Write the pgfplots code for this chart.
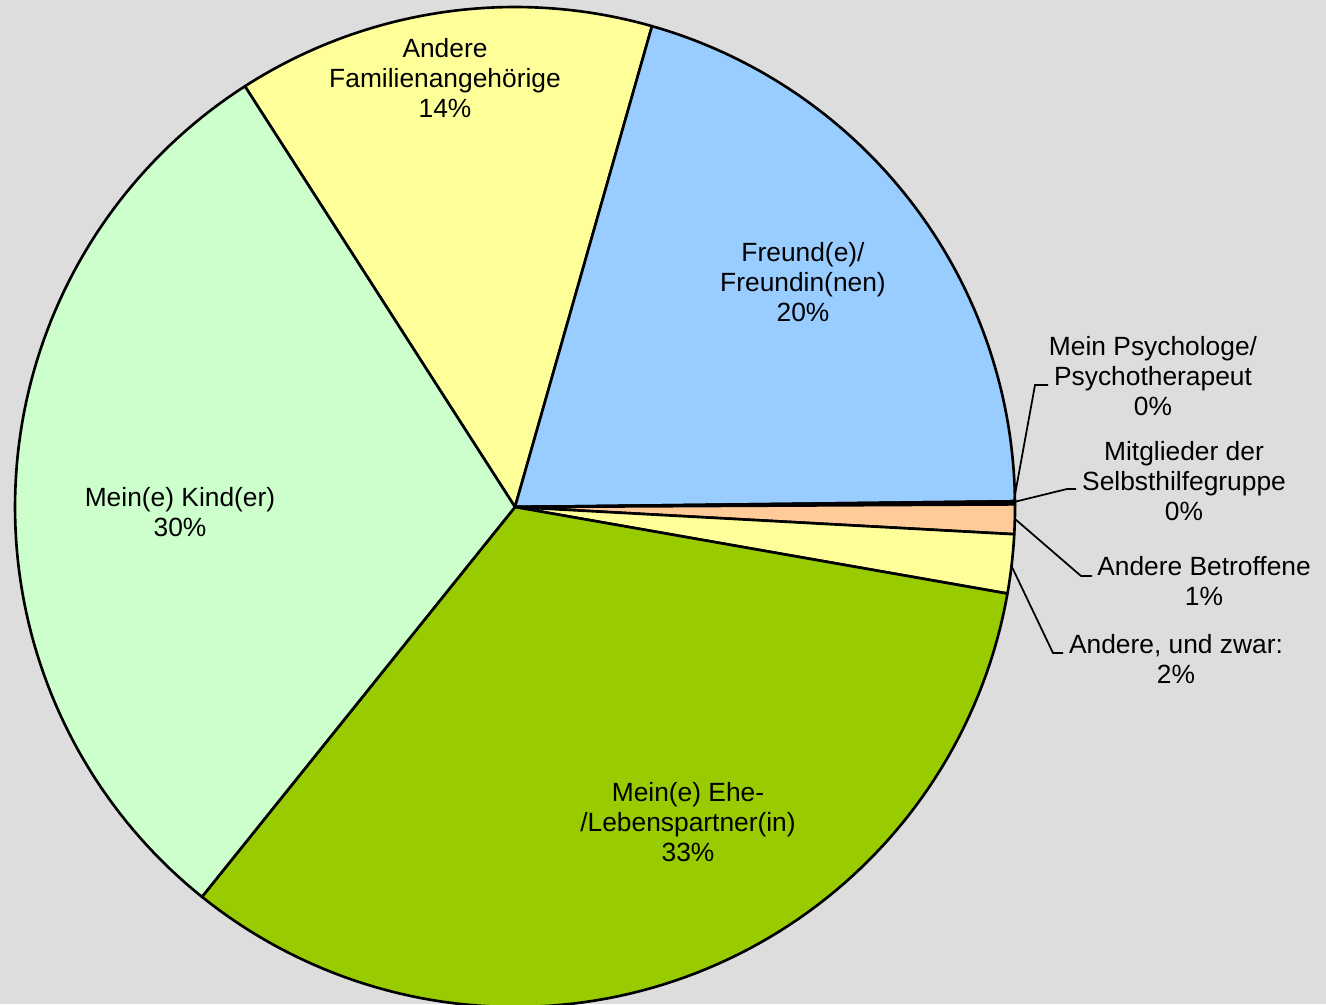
\documentclass[border=0pt]{standalone}
\usepackage{pgfplots}
\pgfplotsset{compat=1.18}
\usepackage{fontspec}
\setmainfont{Liberation Sans}
\definecolor{bg}{HTML}{DDDDDD}
\definecolor{cFam}{HTML}{FFFF99}
\definecolor{cFreund}{HTML}{99CCFF}
\definecolor{cPsy}{HTML}{9999FF}
\definecolor{cSelbst}{HTML}{993366}
\definecolor{cBetr}{HTML}{FFCC99}
\definecolor{cAnd}{HTML}{FFFF99}
\definecolor{cEhe}{HTML}{99CC00}
\definecolor{cKind}{HTML}{CCFFCC}
% percentage values (clockwise from the start angle)
\def\slices{13.5/cFam, 20.4/cFreund, 0.05/cPsy, 0.05/cSelbst, 0.95/cBetr, 1.9/cAnd, 33.0/cEhe, 30.15/cKind}
\tikzset{lbl/.style={font=\fontsize{7.5}{8.6}\selectfont, align=center, text=black, inner sep=0pt}}
\begin{document}
\begin{tikzpicture}
\fill[bg] (0,0) rectangle (13.26,10.04);
\begin{axis}[
  at={(0,0)}, anchor=south west,
  width=13.26cm, height=10.04cm, scale only axis,
  xmin=0, xmax=1326, ymin=0, ymax=1004,
  hide axis, clip=true,
]
\xdef\angA{122.7}
\foreach \v/\c in \slices {
  \pgfmathsetmacro{\angB}{\angA-3.6*\v}
  \edef\temp{\noexpand\addplot[fill=\c, draw=black, line width=0.75pt, line join=round, domain=\angB:\angA, samples=90, variable=\noexpand\t] ({515+500*cos(\noexpand\t)},{497+500*sin(\noexpand\t)}) -- (axis cs:515,497) -- cycle;}
  \temp
  \xdef\angA{\angB}
}
% leader lines
\draw[black, line width=0.5pt] (axis cs:1014,504) -- (axis cs:1035,619) -- (axis cs:1048,619);
\draw[black, line width=0.5pt] (axis cs:1014,502) -- (axis cs:1067,515) -- (axis cs:1076,515);
\draw[black, line width=0.5pt] (axis cs:1015,485) -- (axis cs:1081,428) -- (axis cs:1092,428);
\draw[black, line width=0.5pt] (axis cs:1011,439) -- (axis cs:1053,351) -- (axis cs:1063,351);
% labels
\node[lbl] at (axis cs:445,926) {Andere\\Familienangehörige\\14\%};
\node[lbl] at (axis cs:803,722) {Freund(e)/\\Freundin(nen)\\20\%};
\node[lbl] at (axis cs:1153,628) {Mein Psychologe/\\Psychotherapeut\\0\%};
\node[lbl] at (axis cs:1184,523) {Mitglieder der\\Selbsthilfegruppe\\0\%};
\node[lbl] at (axis cs:1204,423) {Andere Betroffene\\1\%};
\node[lbl] at (axis cs:1176,345) {Andere, und zwar:\\2\%};
\node[lbl] at (axis cs:180,492) {Mein(e) Kind(er)\\30\%};
\node[lbl] at (axis cs:688,182) {Mein(e) Ehe-\\/Lebenspartner(in)\\33\%};
\end{axis}
\end{tikzpicture}
\end{document}
